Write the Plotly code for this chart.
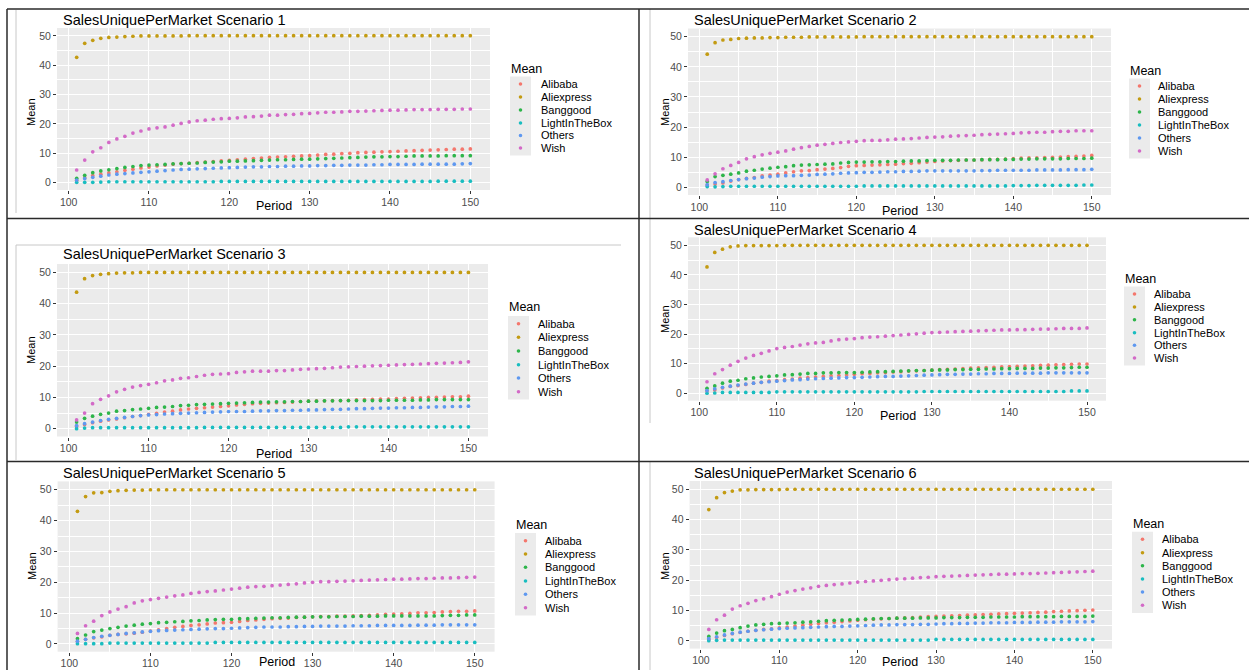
import plotly.graph_objects as go

W, H = 1249, 670

periods = list(range(101, 151))
markets = ["Alibaba", "Aliexpress", "Banggood", "LightInTheBox", "Others", "Wish"]
colors = ["#F4776D", "#C39B12", "#2DB54A", "#19BDC0", "#5E98F0", "#D36AC7"]
x_ticks = [100, 110, 120, 130, 140, 150]
x_minor = [105, 115, 125, 135, 145]
y_ticks = [0, 10, 20, 30, 40, 50]
y_minor = [5, 15, 25, 35, 45]
titles = ["SalesUniquePerMarket Scenario %d" % i for i in range(1, 7)]

# ---------------- Scenario 1 ----------------
s1_alibaba = [0.8, 1.7, 2.4, 2.9, 3.3, 3.7, 4.2, 4.6, 5.0, 5.3,
              5.7, 6.0, 6.3, 6.5, 6.6, 6.8, 7.0, 7.2, 7.4, 7.6,
              7.8, 8.0, 8.2, 8.4, 8.6, 8.7, 8.8, 9.0, 9.1, 9.2,
              9.4, 9.6, 9.7, 9.9, 10.0, 10.2, 10.3, 10.4, 10.5, 10.6,
              10.7, 10.8, 10.9, 11.0, 11.1, 11.2, 11.3, 11.4, 11.4, 11.5]
s1_aliexpress = [42.7, 47.5, 48.5, 49.2, 49.5, 49.6, 49.8, 49.9, 50.0, 50.0,
                 50.0, 50.0, 50.0, 50.0, 50.1, 50.1, 50.1, 50.1, 50.1, 50.1,
                 50.1, 50.1, 50.1, 50.1, 50.1, 50.1, 50.1, 50.1, 50.1, 50.1,
                 50.1, 50.1, 50.1, 50.1, 50.1, 50.1, 50.1, 50.1, 50.1, 50.1,
                 50.1, 50.1, 50.1, 50.1, 50.1, 50.1, 50.1, 50.1, 50.1, 50.1]
s1_banggood = [1.5, 2.5, 3.4, 4.0, 4.4, 4.8, 5.2, 5.5, 5.8, 6.0,
               6.1, 6.2, 6.4, 6.5, 6.6, 6.7, 6.9, 7.0, 7.1, 7.3,
               7.3, 7.4, 7.5, 7.6, 7.7, 7.8, 7.8, 7.9, 8.0, 8.0,
               8.1, 8.2, 8.3, 8.4, 8.5, 8.6, 8.7, 8.8, 8.8, 8.9,
               8.9, 9.0, 9.1, 9.1, 9.1, 9.1, 9.2, 9.2, 9.2, 9.2]
s1_lightinthebox = [0.1, 0.1, 0.1, 0.2, 0.3, 0.3, 0.3, 0.3, 0.3, 0.3,
                    0.3, 0.3, 0.3, 0.3, 0.3, 0.3, 0.3, 0.3, 0.4, 0.4,
                    0.4, 0.4, 0.4, 0.4, 0.4, 0.4, 0.4, 0.4, 0.4, 0.4,
                    0.4, 0.4, 0.4, 0.4, 0.4, 0.4, 0.4, 0.4, 0.4, 0.4,
                    0.4, 0.4, 0.4, 0.4, 0.4, 0.5, 0.5, 0.5, 0.5, 0.5]
s1_others = [0.9, 1.4, 1.8, 2.2, 2.6, 2.9, 3.1, 3.3, 3.5, 3.7,
             3.9, 4.1, 4.3, 4.5, 4.6, 4.7, 4.8, 4.9, 5.0, 5.1,
             5.2, 5.3, 5.4, 5.4, 5.5, 5.5, 5.6, 5.6, 5.7, 5.7,
             5.8, 5.8, 5.9, 5.9, 6.0, 6.0, 6.0, 6.1, 6.1, 6.2,
             6.2, 6.2, 6.2, 6.3, 6.3, 6.3, 6.3, 6.3, 6.4, 6.5]
s1_wish = [4.3, 7.7, 10.5, 11.9, 13.7, 14.9, 15.8, 16.9, 17.6, 18.3,
           18.7, 19.0, 19.6, 20.2, 20.7, 21.1, 21.3, 21.6, 21.8, 21.9,
           22.1, 22.4, 22.5, 22.7, 23.0, 23.0, 23.2, 23.3, 23.5, 23.6,
           23.8, 24.0, 24.0, 24.1, 24.3, 24.3, 24.4, 24.5, 24.6, 24.7,
           24.7, 24.8, 24.9, 24.9, 24.9, 25.0, 25.0, 25.0, 25.1, 25.1]

# ---------------- Scenario 2 ----------------
s2_alibaba = [0.8, 1.1, 1.5, 2.1, 2.6, 3.0, 3.3, 3.8, 4.1, 4.4,
              4.8, 5.2, 5.5, 5.6, 5.9, 6.1, 6.3, 6.6, 7.0, 7.2,
              7.3, 7.4, 7.5, 7.6, 7.7, 7.9, 8.0, 8.2, 8.4, 8.6,
              8.8, 8.9, 9.0, 9.1, 9.1, 9.2, 9.3, 9.3, 9.4, 9.6,
              9.7, 9.8, 9.8, 9.9, 10.0, 10.1, 10.2, 10.3, 10.4, 10.6]
s2_aliexpress = [44.2, 48.0, 48.9, 49.1, 49.4, 49.5, 49.6, 49.6, 49.7, 49.7,
                 49.8, 49.8, 49.8, 49.9, 49.9, 49.9, 49.9, 49.9, 49.9, 49.9,
                 50.0, 50.0, 50.0, 50.0, 50.0, 50.0, 50.0, 50.0, 50.0, 50.0,
                 50.0, 50.0, 50.0, 50.0, 50.0, 50.0, 50.0, 50.0, 50.0, 50.0,
                 50.0, 50.0, 50.0, 50.0, 50.0, 50.0, 50.0, 50.0, 50.0, 50.0]
s2_banggood = [2.0, 3.6, 4.0, 4.4, 4.8, 5.4, 5.7, 6.1, 6.4, 6.7,
               6.9, 7.2, 7.4, 7.5, 7.6, 7.7, 7.8, 8.1, 8.3, 8.4,
               8.4, 8.5, 8.5, 8.6, 8.6, 8.7, 8.8, 8.8, 8.9, 9.0,
               9.0, 9.0, 9.1, 9.1, 9.1, 9.2, 9.2, 9.2, 9.3, 9.3,
               9.4, 9.4, 9.5, 9.5, 9.5, 9.5, 9.6, 9.6, 9.6, 9.7]
s2_lightinthebox = [0.3, 0.2, 0.3, 0.4, 0.4, 0.4, 0.4, 0.4, 0.4, 0.4,
                    0.4, 0.4, 0.4, 0.4, 0.4, 0.4, 0.4, 0.4, 0.4, 0.4,
                    0.5, 0.5, 0.5, 0.5, 0.5, 0.5, 0.5, 0.5, 0.5, 0.5,
                    0.5, 0.5, 0.5, 0.5, 0.5, 0.5, 0.5, 0.5, 0.5, 0.6,
                    0.6, 0.6, 0.7, 0.7, 0.7, 0.7, 0.7, 0.7, 0.8, 0.8]
s2_others = [0.9, 1.6, 1.9, 2.3, 2.6, 2.9, 3.1, 3.4, 3.6, 3.8,
             3.9, 3.9, 4.0, 4.1, 4.3, 4.4, 4.5, 4.7, 4.8, 4.9,
             5.0, 5.0, 5.1, 5.2, 5.2, 5.3, 5.3, 5.4, 5.5, 5.5,
             5.5, 5.5, 5.5, 5.5, 5.5, 5.6, 5.6, 5.7, 5.7, 5.7,
             5.7, 5.7, 5.8, 5.8, 5.8, 5.8, 5.9, 5.9, 5.9, 6.0]
s2_wish = [2.5, 4.5, 6.2, 7.3, 8.3, 9.5, 10.2, 10.8, 11.3, 11.7,
           12.1, 12.7, 13.2, 13.6, 14.0, 14.3, 14.6, 14.9, 15.1, 15.3,
           15.5, 15.6, 15.6, 15.8, 16.0, 16.1, 16.2, 16.4, 16.6, 16.7,
           16.8, 17.0, 17.1, 17.2, 17.3, 17.5, 17.6, 17.7, 17.8, 17.9,
           18.1, 18.2, 18.3, 18.3, 18.5, 18.6, 18.6, 18.8, 18.8, 18.8]

# ---------------- Scenario 3 ----------------
s3_alibaba = [0.7, 1.3, 1.9, 2.4, 2.8, 3.1, 3.5, 3.9, 4.2, 4.6,
              4.9, 5.3, 5.6, 6.0, 6.3, 6.5, 6.7, 6.9, 7.1, 7.3,
              7.6, 7.8, 8.0, 8.1, 8.2, 8.3, 8.4, 8.5, 8.7, 8.8,
              8.9, 8.9, 9.0, 9.0, 9.1, 9.2, 9.3, 9.4, 9.5, 9.5,
              9.6, 9.7, 9.8, 9.9, 10.0, 10.0, 10.1, 10.2, 10.2, 10.4]
s3_aliexpress = [43.7, 48.0, 49.0, 49.4, 49.6, 49.8, 49.9, 49.9, 50.0, 50.0,
                 50.0, 50.0, 50.0, 50.0, 50.0, 50.0, 50.0, 50.0, 50.0, 50.0,
                 50.0, 50.0, 50.0, 50.0, 50.0, 50.0, 50.0, 50.0, 50.0, 50.0,
                 50.0, 50.0, 50.0, 50.0, 50.0, 50.0, 50.0, 50.0, 50.0, 50.0,
                 50.0, 50.0, 50.0, 50.0, 50.0, 50.0, 50.0, 50.0, 50.0, 50.0]
s3_banggood = [2.1, 3.3, 4.0, 4.6, 5.0, 5.6, 5.8, 6.1, 6.3, 6.5,
               6.8, 6.9, 7.1, 7.4, 7.5, 7.7, 7.8, 7.9, 8.0, 8.1,
               8.2, 8.3, 8.4, 8.5, 8.5, 8.6, 8.6, 8.7, 8.7, 8.8,
               8.8, 8.9, 8.9, 9.0, 9.0, 9.0, 9.0, 9.0, 9.0, 9.1,
               9.1, 9.1, 9.1, 9.2, 9.2, 9.3, 9.3, 9.3, 9.3, 9.3]
s3_lightinthebox = [0.0, 0.2, 0.3, 0.3, 0.3, 0.3, 0.3, 0.3, 0.3, 0.3,
                    0.3, 0.3, 0.3, 0.3, 0.3, 0.3, 0.4, 0.4, 0.4, 0.4,
                    0.4, 0.4, 0.4, 0.4, 0.4, 0.4, 0.4, 0.4, 0.4, 0.4,
                    0.4, 0.4, 0.4, 0.4, 0.6, 0.6, 0.6, 0.6, 0.6, 0.6,
                    0.6, 0.6, 0.6, 0.6, 0.6, 0.6, 0.6, 0.6, 0.6, 0.6]
s3_others = [1.0, 1.6, 2.1, 2.6, 3.0, 3.3, 3.6, 3.9, 4.2, 4.4,
             4.5, 4.7, 4.8, 4.9, 5.0, 5.1, 5.2, 5.3, 5.4, 5.5,
             5.5, 5.5, 5.6, 5.7, 5.7, 5.8, 5.8, 5.9, 5.9, 6.0,
             6.0, 6.1, 6.2, 6.2, 6.3, 6.4, 6.4, 6.5, 6.6, 6.6,
             6.7, 6.7, 6.8, 6.8, 6.9, 7.0, 7.0, 7.1, 7.1, 7.2]
s3_wish = [2.8, 5.0, 8.0, 9.4, 10.5, 11.8, 12.6, 13.3, 13.8, 14.2,
           14.7, 15.3, 15.6, 16.1, 16.3, 16.7, 17.1, 17.4, 17.5, 17.6,
           18.0, 18.2, 18.4, 18.4, 18.4, 18.6, 18.6, 18.8, 19.0, 19.1,
           19.2, 19.3, 19.5, 19.7, 19.8, 19.9, 20.0, 20.1, 20.2, 20.3,
           20.4, 20.5, 20.6, 20.7, 20.8, 20.9, 21.0, 21.1, 21.2, 21.4]

# ---------------- Scenario 4 ----------------
s4_alibaba = [0.8, 1.1, 1.8, 2.3, 2.6, 3.0, 3.4, 3.7, 4.1, 4.3,
              4.6, 4.8, 5.1, 5.3, 5.5, 5.7, 5.9, 6.0, 6.2, 6.4,
              6.6, 6.7, 6.9, 7.0, 7.2, 7.3, 7.5, 7.6, 7.7, 7.8,
              8.0, 8.1, 8.2, 8.3, 8.5, 8.6, 8.7, 8.8, 8.9, 9.0,
              9.1, 9.2, 9.3, 9.4, 9.5, 9.6, 9.7, 9.8, 9.9, 9.9]
s4_aliexpress = [42.7, 47.6, 48.7, 49.5, 49.8, 49.9, 49.9, 49.9, 49.9, 49.9,
                 50.0, 50.0, 50.0, 50.0, 50.0, 50.0, 50.0, 50.0, 50.0, 50.0,
                 50.0, 50.0, 50.0, 50.0, 50.0, 50.0, 50.0, 50.0, 50.0, 50.0,
                 50.0, 50.0, 50.0, 50.0, 50.0, 50.0, 50.0, 50.0, 50.0, 50.0,
                 50.0, 50.0, 50.0, 50.0, 50.0, 50.0, 50.0, 50.0, 50.0, 50.0]
s4_banggood = [1.7, 2.5, 3.4, 4.1, 4.4, 4.9, 5.2, 5.5, 5.7, 5.9,
               6.2, 6.3, 6.5, 6.7, 6.7, 6.9, 6.9, 7.0, 7.0, 7.0,
               7.1, 7.2, 7.3, 7.3, 7.4, 7.5, 7.6, 7.7, 7.7, 7.8,
               7.9, 7.9, 8.0, 8.0, 8.1, 8.1, 8.2, 8.2, 8.3, 8.3,
               8.4, 8.4, 8.4, 8.5, 8.5, 8.6, 8.6, 8.7, 8.8, 8.8]
s4_lightinthebox = [0.0, 0.1, 0.3, 0.3, 0.3, 0.3, 0.3, 0.3, 0.3, 0.5,
                    0.5, 0.5, 0.5, 0.5, 0.5, 0.5, 0.5, 0.5, 0.5, 0.5,
                    0.5, 0.5, 0.5, 0.5, 0.5, 0.5, 0.5, 0.5, 0.6, 0.6,
                    0.6, 0.6, 0.6, 0.6, 0.6, 0.6, 0.6, 0.6, 0.6, 0.6,
                    0.6, 0.6, 0.6, 0.6, 0.6, 0.6, 0.6, 0.8, 0.8, 0.8]
s4_others = [0.9, 1.5, 2.0, 2.4, 2.8, 3.1, 3.4, 3.7, 3.9, 4.1,
             4.3, 4.5, 4.6, 4.8, 4.9, 5.0, 5.1, 5.2, 5.3, 5.3,
             5.4, 5.5, 5.6, 5.7, 5.7, 5.8, 5.9, 6.0, 6.1, 6.2,
             6.3, 6.4, 6.4, 6.5, 6.5, 6.6, 6.6, 6.7, 6.7, 6.7,
             6.8, 6.8, 6.8, 6.8, 6.9, 6.9, 6.9, 6.9, 6.9, 6.9]
s4_wish = [3.9, 6.6, 8.0, 9.5, 10.8, 11.9, 12.8, 13.5, 14.3, 15.1,
           15.5, 15.8, 16.3, 16.7, 17.0, 17.2, 17.7, 18.1, 18.3, 18.5,
           18.8, 19.0, 19.1, 19.3, 19.5, 19.7, 19.9, 20.1, 20.3, 20.5,
           20.6, 20.7, 20.8, 20.9, 21.0, 21.1, 21.2, 21.3, 21.4, 21.4,
           21.5, 21.5, 21.6, 21.7, 21.7, 21.8, 21.9, 21.9, 21.9, 22.1]

# ---------------- Scenario 5 ----------------
s5_alibaba = [0.8, 1.5, 2.0, 2.3, 2.8, 3.1, 3.3, 3.5, 3.8, 4.2,
              4.6, 5.0, 5.4, 5.7, 6.0, 6.2, 6.5, 6.8, 6.9, 7.0,
              7.3, 7.6, 7.8, 8.0, 8.2, 8.3, 8.4, 8.6, 8.7, 8.8,
              8.9, 8.9, 9.0, 9.0, 9.1, 9.2, 9.3, 9.4, 9.6, 9.7,
              9.8, 9.9, 10.1, 10.1, 10.2, 10.4, 10.5, 10.6, 10.6, 10.7]
s5_aliexpress = [43.0, 47.8, 49.0, 49.1, 49.5, 49.7, 49.8, 49.9, 49.9, 50.0,
                 50.0, 50.0, 50.0, 50.0, 50.0, 50.0, 50.0, 50.0, 50.0, 50.0,
                 50.0, 50.0, 50.0, 50.0, 50.0, 50.0, 50.0, 50.0, 50.0, 50.0,
                 50.0, 50.0, 50.0, 50.0, 50.0, 50.0, 50.0, 50.0, 50.0, 50.0,
                 50.0, 50.0, 50.0, 50.0, 50.0, 50.0, 50.0, 50.0, 50.0, 50.0]
s5_banggood = [1.7, 2.9, 4.0, 4.5, 5.0, 5.4, 5.8, 6.1, 6.4, 6.6,
               6.9, 7.0, 7.2, 7.3, 7.5, 7.6, 7.8, 7.9, 8.0, 8.0,
               8.2, 8.2, 8.3, 8.4, 8.5, 8.5, 8.6, 8.7, 8.7, 8.8,
               8.8, 8.8, 8.9, 8.9, 8.9, 9.0, 9.0, 9.0, 9.1, 9.1,
               9.1, 9.1, 9.1, 9.1, 9.1, 9.2, 9.3, 9.3, 9.4, 9.4]
s5_lightinthebox = [0.1, 0.1, 0.1, 0.1, 0.3, 0.3, 0.3, 0.3, 0.3, 0.3,
                    0.3, 0.3, 0.3, 0.3, 0.3, 0.3, 0.3, 0.5, 0.5, 0.5,
                    0.5, 0.5, 0.5, 0.5, 0.5, 0.5, 0.5, 0.5, 0.5, 0.5,
                    0.5, 0.5, 0.5, 0.5, 0.5, 0.5, 0.5, 0.5, 0.5, 0.5,
                    0.5, 0.5, 0.5, 0.5, 0.5, 0.5, 0.5, 0.5, 0.5, 0.5]
s5_others = [0.9, 1.5, 2.1, 2.5, 2.8, 3.1, 3.4, 3.6, 3.9, 4.1,
             4.3, 4.4, 4.5, 4.6, 4.7, 4.8, 4.9, 5.0, 5.0, 5.1,
             5.2, 5.3, 5.4, 5.5, 5.5, 5.5, 5.6, 5.6, 5.7, 5.7,
             5.8, 5.8, 5.8, 5.8, 5.9, 5.9, 5.9, 6.0, 6.0, 6.0,
             6.0, 6.0, 6.1, 6.1, 6.1, 6.2, 6.2, 6.2, 6.2, 6.2]
s5_wish = [3.4, 5.9, 7.4, 9.2, 10.4, 11.3, 12.1, 13.3, 14.0, 14.4,
           14.8, 15.2, 15.6, 15.9, 16.4, 16.7, 17.0, 17.2, 17.5, 17.8,
           18.1, 18.4, 18.6, 18.7, 18.9, 19.1, 19.3, 19.5, 19.8, 20.0,
           20.2, 20.2, 20.3, 20.4, 20.5, 20.6, 20.7, 20.8, 20.9, 21.0,
           21.0, 21.1, 21.2, 21.2, 21.3, 21.4, 21.4, 21.5, 21.6, 21.7]

# ---------------- Scenario 6 ----------------
s6_alibaba = [0.5, 1.2, 1.8, 2.4, 2.8, 3.2, 3.5, 3.8, 4.0, 4.3,
              4.6, 4.9, 5.2, 5.5, 5.8, 6.0, 6.2, 6.4, 6.6, 6.8,
              7.0, 7.2, 7.3, 7.4, 7.5, 7.6, 7.7, 7.9, 8.0, 8.1,
              8.2, 8.3, 8.4, 8.5, 8.6, 8.7, 8.8, 8.9, 9.0, 9.1,
              9.2, 9.3, 9.4, 9.5, 9.7, 9.8, 9.9, 10.0, 10.1, 10.2]
s6_aliexpress = [43.3, 47.2, 48.9, 49.4, 49.8, 49.8, 49.9, 49.9, 49.9, 49.9,
                 50.0, 50.0, 50.0, 50.0, 50.0, 50.0, 50.0, 50.0, 50.0, 50.0,
                 50.0, 50.0, 50.0, 50.0, 50.0, 50.0, 50.0, 50.0, 50.0, 50.0,
                 50.0, 50.0, 50.0, 50.0, 50.0, 50.0, 50.0, 50.0, 50.0, 50.0,
                 50.0, 50.0, 50.0, 50.0, 50.0, 50.0, 50.0, 50.0, 50.0, 50.0]
s6_banggood = [1.5, 2.6, 3.4, 3.8, 4.4, 4.9, 5.3, 5.5, 5.7, 5.8,
               5.9, 6.0, 6.2, 6.3, 6.5, 6.7, 6.8, 6.9, 7.0, 7.1,
               7.2, 7.3, 7.4, 7.4, 7.5, 7.5, 7.5, 7.6, 7.6, 7.6,
               7.7, 7.7, 7.7, 7.8, 7.8, 7.8, 7.9, 7.9, 7.9, 7.9,
               8.0, 8.0, 8.0, 8.0, 8.0, 8.1, 8.1, 8.1, 8.1, 8.2]
s6_lightinthebox = [0.1, 0.2, 0.3, 0.3, 0.3, 0.3, 0.3, 0.3, 0.3, 0.3,
                    0.3, 0.3, 0.3, 0.3, 0.3, 0.3, 0.3, 0.3, 0.3, 0.3,
                    0.3, 0.3, 0.3, 0.3, 0.3, 0.3, 0.3, 0.3, 0.3, 0.5,
                    0.5, 0.5, 0.5, 0.5, 0.5, 0.5, 0.5, 0.5, 0.5, 0.5,
                    0.5, 0.5, 0.5, 0.5, 0.5, 0.5, 0.5, 0.5, 0.5, 0.5]
s6_others = [0.8, 1.4, 2.0, 2.5, 2.9, 3.2, 3.5, 3.7, 3.9, 4.1,
             4.2, 4.3, 4.4, 4.5, 4.6, 4.7, 4.8, 4.8, 4.9, 5.0,
             5.1, 5.2, 5.3, 5.3, 5.4, 5.4, 5.4, 5.5, 5.5, 5.6,
             5.7, 5.7, 5.8, 5.8, 5.9, 5.9, 6.0, 6.0, 6.0, 6.1,
             6.1, 6.1, 6.2, 6.2, 6.2, 6.3, 6.3, 6.3, 6.3, 6.4]
s6_wish = [3.8, 7.0, 8.5, 10.5, 11.6, 12.4, 13.3, 13.9, 14.6, 15.4,
           16.1, 16.6, 17.1, 17.5, 18.0, 18.3, 18.6, 18.8, 19.1, 19.4,
           19.6, 19.8, 20.0, 20.2, 20.4, 20.5, 20.7, 20.9, 21.0, 21.2,
           21.3, 21.4, 21.5, 21.6, 21.7, 21.8, 21.9, 22.0, 22.0, 22.1,
           22.2, 22.2, 22.3, 22.4, 22.5, 22.6, 22.7, 22.8, 22.9, 23.0]

scenarios = [
    [s1_alibaba, s1_aliexpress, s1_banggood, s1_lightinthebox, s1_others, s1_wish],
    [s2_alibaba, s2_aliexpress, s2_banggood, s2_lightinthebox, s2_others, s2_wish],
    [s3_alibaba, s3_aliexpress, s3_banggood, s3_lightinthebox, s3_others, s3_wish],
    [s4_alibaba, s4_aliexpress, s4_banggood, s4_lightinthebox, s4_others, s4_wish],
    [s5_alibaba, s5_aliexpress, s5_banggood, s5_lightinthebox, s5_others, s5_wish],
    [s6_alibaba, s6_aliexpress, s6_banggood, s6_lightinthebox, s6_others, s6_wish],
]

# ---------------- layout geometry (pixels) ----------------
panels = [
    dict(px=(57, 490), py=(28, 190), title=(61, 20), ylab=(31, 112), xlab=(274, 206),
         leg=dict(x=510, w=21, ty=69, ys=(84, 97, 110, 123, 135.5, 148), lx=539)),
    dict(px=(688, 1111), py=(28.5, 195), title=(692, 20), ylab=(665, 112), xlab=(900, 211),
         leg=dict(x=1129, w=21, ty=71, ys=(86, 99, 112, 125, 138, 151), lx=1156)),
    dict(px=(57, 488), py=(264, 436.5), title=(61, 254), ylab=(31, 350), xlab=(274, 453.5),
         leg=dict(x=508, w=21, ty=307.5, ys=(323.7, 337.3, 351, 364.7, 378, 391.7), lx=535.5)),
    dict(px=(688, 1106), py=(237.3, 400.7), title=(692, 230), ylab=(665, 319), xlab=(898, 416),
         leg=dict(x=1124, w=21, ty=279, ys=(294, 307, 319.7, 332.7, 345.3, 358), lx=1152)),
    dict(px=(57.6, 494.6), py=(481.4, 651.7), title=(61, 473), ylab=(32, 566), xlab=(277, 662),
         leg=dict(x=515, w=21, ty=525, ys=(540.7, 554, 567.3, 581, 594.3, 607.7), lx=543)),
    dict(px=(689.6, 1112), py=(481, 648.6), title=(692, 473), ylab=(665, 566), xlab=(900, 662),
         leg=dict(x=1132, w=21, ty=524, ys=(539.3, 552.7, 565.7, 579, 592, 605.3), lx=1160)),
]

FONT = "Liberation Sans, Arial, sans-serif"


def fx(p):
    return p / W


def fy(p):
    return 1 - p / H


fig = go.Figure()
layout = dict(
    width=W, height=H, margin=dict(l=0, r=0, t=0, b=0),
    paper_bgcolor="white", plot_bgcolor="#EBEBEB", showlegend=False,
    font=dict(family=FONT),
)
annotations = []
shapes = []

for i, (pan, series) in enumerate(zip(panels, scenarios)):
    k = "" if i == 0 else str(i + 1)
    xa, ya = "x" + k, "y" + k
    for name, col, vals in zip(markets, colors, series):
        fig.add_trace(go.Scatter(
            x=periods, y=vals, mode="markers", name=name,
            marker=dict(color=col, size=3.7, line=dict(width=0)),
            xaxis=xa, yaxis=ya, showlegend=False))
    layout["xaxis" + k] = dict(
        domain=[fx(pan["px"][0]), fx(pan["px"][1])], anchor=ya,
        range=[98.55, 152.45], tickmode="array", tickvals=x_ticks,
        ticks="outside", ticklen=3, tickwidth=1, tickcolor="#333333",
        ticklabelstandoff=-1,
        tickfont=dict(size=10.5, color="#4D4D4D", family=FONT),
        showgrid=True, gridcolor="white", gridwidth=1.2,
        minor=dict(tickmode="array", tickvals=x_minor, showgrid=True,
                   gridcolor="white", gridwidth=0.6, ticks=""),
        zeroline=False, showline=False, fixedrange=True)
    layout["yaxis" + k] = dict(
        domain=[fy(pan["py"][1]), fy(pan["py"][0])], anchor=xa,
        range=[-2.51, 52.71], tickmode="array", tickvals=y_ticks,
        ticks="outside", ticklen=3, tickwidth=1, tickcolor="#333333",
        ticklabelstandoff=0,
        tickfont=dict(size=10.5, color="#4D4D4D", family=FONT),
        showgrid=True, gridcolor="white", gridwidth=1.2,
        minor=dict(tickmode="array", tickvals=y_minor, showgrid=True,
                   gridcolor="white", gridwidth=0.6, ticks=""),
        zeroline=False, showline=False, fixedrange=True)

    annotations.append(dict(
        text=titles[i], x=fx(pan["title"][0]), y=fy(pan["title"][1]),
        xref="paper", yref="paper", xanchor="left", yanchor="middle",
        showarrow=False, font=dict(size=14.5, color="black", family=FONT)))
    annotations.append(dict(
        text="Mean", x=fx(pan["ylab"][0]), y=fy(pan["ylab"][1]),
        xref="paper", yref="paper", xanchor="center", yanchor="middle",
        textangle=-90, showarrow=False, font=dict(size=11, color="black", family=FONT)))
    annotations.append(dict(
        text="Period", x=fx(pan["xlab"][0]), y=fy(pan["xlab"][1]),
        xref="paper", yref="paper", xanchor="center", yanchor="middle",
        showarrow=False, font=dict(size=12.5, color="black", family=FONT)))

    # legend (ggplot style)
    lg = pan["leg"]
    annotations.append(dict(
        text="Mean", x=fx(lg["x"] - 1), y=fy(lg["ty"]),
        xref="paper", yref="paper", xanchor="left", yanchor="middle",
        showarrow=False, font=dict(size=12.5, color="black", family=FONT)))
    step = (lg["ys"][-1] - lg["ys"][0]) / 5.0
    shapes.append(dict(
        type="rect", xref="paper", yref="paper", layer="below",
        x0=fx(lg["x"]), x1=fx(lg["x"] + lg["w"]),
        y0=fy(lg["ys"][0] - step / 2 - 1), y1=fy(lg["ys"][-1] + step / 2 + 1),
        fillcolor="#EBEBEB", line=dict(width=0)))
    cx = lg["x"] + lg["w"] / 2.0
    for name, col, yy in zip(markets, colors, lg["ys"]):
        r = 1.8
        shapes.append(dict(
            type="circle", xref="paper", yref="paper",
            x0=fx(cx - r), x1=fx(cx + r), y0=fy(yy + r), y1=fy(yy - r),
            fillcolor=col, line=dict(width=0)))
        annotations.append(dict(
            text=name, x=fx(lg["lx"]), y=fy(yy),
            xref="paper", yref="paper", xanchor="left", yanchor="middle",
            showarrow=False, font=dict(size=11, color="black", family=FONT)))

# light grey borders of the pasted images
grey = dict(color="#C8C8C8", width=1)
for (x0, y0, x1, y1) in [(16, 10, 16, 213), (650, 9, 650, 218), (16, 245, 621, 245),
                         (16, 245, 16, 460), (650, 219, 650, 423), (650, 462, 650, 670)]:
    shapes.append(dict(type="line", xref="paper", yref="paper",
                       x0=fx(x0), y0=fy(y0), x1=fx(x1), y1=fy(y1), line=grey))

# black table frame lines
blk = dict(color="#2A2A2A", width=1.5)
for (x0, y0, x1, y1) in [(7, 9, 1249, 9), (7, 9, 7, 670), (639, 9, 639, 670),
                         (7, 218.5, 1249, 218.5), (7, 461.5, 1249, 461.5)]:
    shapes.append(dict(type="line", xref="paper", yref="paper",
                       x0=fx(x0), y0=fy(y0), x1=fx(x1), y1=fy(y1), line=blk))

layout["annotations"] = annotations
layout["shapes"] = shapes
fig.update_layout(**layout)
fig.write_html("out.html",
               config={"displayModeBar": False},
               post_script="document.body.style.margin='0';"
                           "document.body.style.overflow='hidden';")
